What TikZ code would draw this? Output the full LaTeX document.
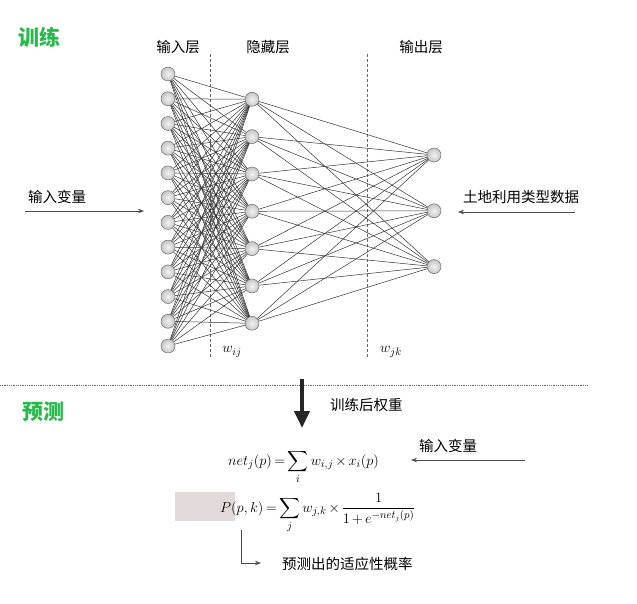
\documentclass[tikz,border=0pt]{standalone}
\usepackage{amsmath}
\usepackage[no-math]{fontspec}
\newfontfamily\cjk{Noto Sans CJK SC}
\usetikzlibrary{arrows.meta,positioning,calc}
\definecolor{titlegreen}{RGB}{40,185,75}
\definecolor{boxpink}{RGB}{226,218,216}
\newcommand{\tightmath}{\thickmuskip=3mu\relax\medmuskip=2.5mu\relax}
\tikzset{
  neuron/.style={circle,draw=gray!70!black,inner color=gray!10,outer color=gray!45,inner sep=0pt,minimum size=14pt},
  link/.style={draw=black!80,line width=0.5pt},
  layerline/.style={draw=gray!80!black,densely dashed,line width=0.5pt},
  lbl/.style={font=\cjk\fontsize{14.5}{16}\selectfont,inner sep=1pt},
  title/.style={font=\cjk\bfseries\fontsize{21}{23}\selectfont,text=titlegreen},
  thin arrow/.style={draw=black!70,line width=0.7pt,-{Stealth[length=6pt,width=4.5pt]}},
  formula/.style={font=\fontsize{15}{17}\selectfont\tightmath,inner sep=0pt}
}
\begin{document}
\begin{tikzpicture}[x=1pt,y=-1pt]
\useasboundingbox (0,0) rectangle (637,604);
\fill[white] (0,0) rectangle (637,604);
% titles
\node[title] (train) at (40,37) {训练};
\node[title] (predict) at (44,412) {预测};
% layer labels
\node[lbl] (inlbl) at (178,47) {输入层};
\node[lbl] (hidlbl) at (268,47) {隐藏层};
\node[lbl] (outlbl) at (421,47) {输出层};
% dashed separators
\coordinate (d1a) at (210,54); \coordinate (d1b) at (210,358);
\coordinate (d2a) at (367,54); \coordinate (d2b) at (367,358);
\draw[layerline] (d1a) -- (d1b);
\draw[layerline] (d2a) -- (d2b);
% neurons
\foreach \i in {1,...,12}
  \node[neuron] (in\i) at (168,{74+(\i-1)*24.73}) {};
\foreach \j in {1,...,7}
  \node[neuron] (hid\j) at (252,{99.3+(\j-1)*37.33}) {};
\foreach \k in {1,...,3}
  \node[neuron] (out\k) at (434,{155+(\k-1)*55.8}) {};
% weights
\foreach \i in {1,...,12}
  \foreach \j in {1,...,7}
    \draw[link] (in\i) -- (hid\j);
\foreach \j in {1,...,7}
  \foreach \k in {1,...,3}
    \draw[link] (hid\j) -- (out\k);
\node[formula] (wij) at (232,352) {$w_{ij}$};
\node[formula] (wjk) at (391,352) {$w_{jk}$};
% inputs and targets
\node[lbl,anchor=west] (invar) at (27,197) {输入变量};
\coordinate (inA) at (25,211); \coordinate (inB) at (144,211);
\draw[thin arrow] (inA) -- (inB);
\node[lbl,anchor=west] (landuse) at (462,197) {土地利用类型数据};
\coordinate (luA) at (575,212); \coordinate (luB) at (458,212);
\draw[thin arrow] (luA) -- (luB);
% separation between training and prediction
\coordinate (sepA) at (0,385); \coordinate (sepB) at (588,385);
\draw[gray!80!black,densely dotted,line width=0.8pt] (sepA) -- (sepB);
\coordinate (bigA) at (302,379); \coordinate (bigB) at (302,428);
\draw[black!85,line width=4pt,-{Triangle[length=17pt,width=15pt]}] (bigA) -- (bigB);
\node[lbl,anchor=west] (trained) at (329,405) {训练后权重};
% prediction formulas
\fill[boxpink] (175,492) rectangle (235,521);
\node[formula,anchor=base west] (net) at (228,465) {$\displaystyle net_j(p)=\sum_i w_{i,j}\times x_i(p)$};
\node[lbl,anchor=west] (invar2) at (418,446) {输入变量};
\coordinate (nvA) at (525,460); \coordinate (nvB) at (411,460);
\draw[thin arrow] (nvA) -- (nvB);
\node[formula,anchor=base west] (prob) at (220,512) {$\displaystyle P(p,k)=\sum_j w_{j,k}\times\frac{1}{1+e^{-net_j(p)}}$};
\coordinate (pA) at (241,530); \coordinate (pB) at (261,563);
\draw[thin arrow] (pA) |- (pB);
\node[lbl,anchor=west] (result) at (281,564) {预测出的适应性概率};
\end{tikzpicture}
\end{document}
